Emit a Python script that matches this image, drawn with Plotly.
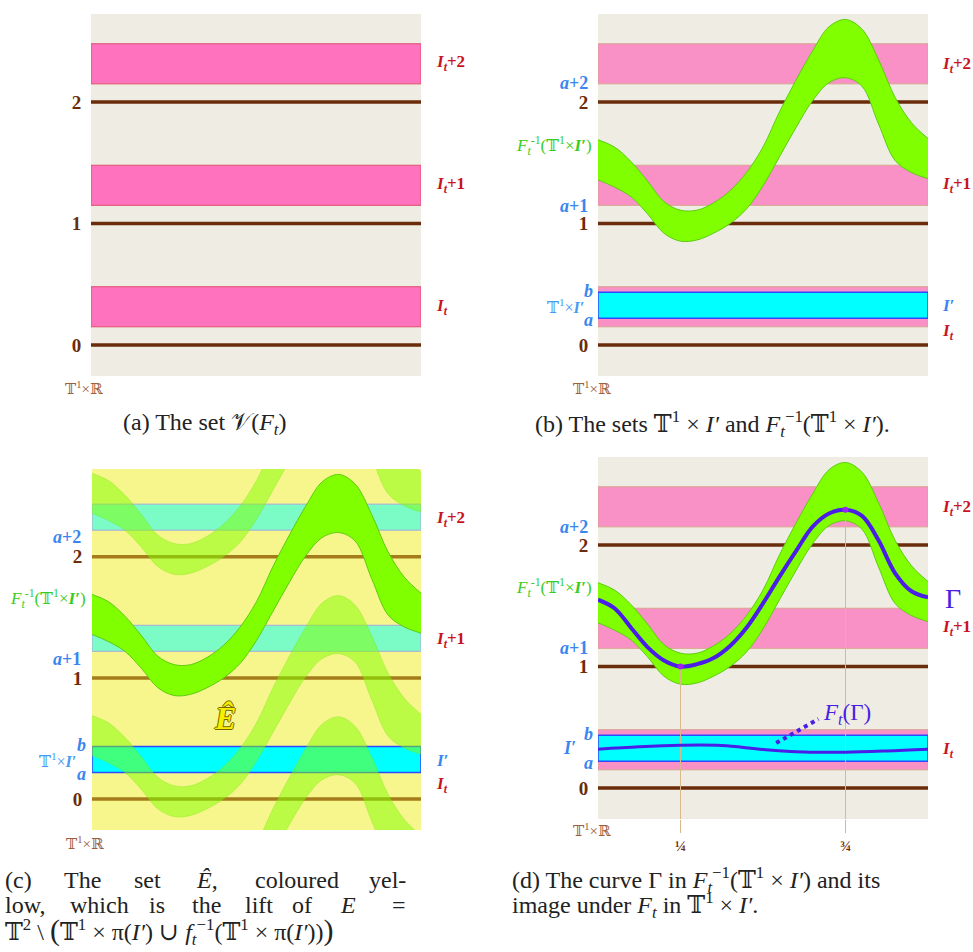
import plotly.graph_objects as go

W, H = 973, 952

# ---------------- data ----------------
XS = [0.00, 0.05, 0.10, 0.15, 0.20, 0.25, 0.30, 0.35, 0.40, 0.45, 0.50,
      0.55, 0.60, 0.65, 0.70, 0.75, 0.80, 0.85, 0.90, 0.95, 1.00]
BAND_TOP = [1.69, 1.63, 1.51, 1.35, 1.18, 1.11, 1.11, 1.17, 1.27, 1.42, 1.63,
            1.92, 2.18, 2.42, 2.62, 2.68, 2.60, 2.35, 2.04, 1.83, 1.70]
BAND_BOT = [1.36, 1.30, 1.22, 1.08, 0.92, 0.855, 0.865, 0.92, 1.00, 1.12, 1.31,
            1.55, 1.79, 2.01, 2.16, 2.20, 2.13, 1.82, 1.52, 1.42, 1.37]
GAMMA = [1.55, 1.48, 1.32, 1.16, 1.05, 1.00, 1.02, 1.07, 1.17, 1.32, 1.52,
         1.74, 1.95, 2.15, 2.26, 2.29, 2.24, 2.04, 1.77, 1.62, 1.57]
FG_X = [0.0, 0.125, 0.25, 0.375, 0.5, 0.625, 0.75, 0.875, 1.0]
FG_Y = [0.32, 0.34, 0.352, 0.35, 0.318, 0.297, 0.295, 0.305, 0.32]
I_T = (0.15, 0.48)
I_PRIME = (0.22, 0.435)
LEVELS = [0, 1, 2]
LEVEL_TEXT = ["<b>0</b>", "<b>1</b>", "<b>2</b>"]
SHIFTS_C = [-2, -1, 1]
MARK_X = [0.25, 0.75]
MARK_TEXT = ["<b>¼</b>", "<b>¾</b>"]

# ---------------- styles ----------------
BG = "#eeece3"
YEL = "#f7f68c"
BROWN = "#6a2c0a"
BROWN_C = "#a47c1a"
PINK_A, PINK_A_LINE = "#ff72be", "#e0506a"
PINK_B, PINK_B_LINE = "#f990c6", "#d8a48e"
CYAN, CYAN_LINE = "#00ffff", "#3048ff"
GREEN, GREEN_LINE = "#80ff00", "#5ccc10"
GAM = "#4a1ee6"
RED = "#c8141e"
BLUE = "#3a86f0"
BLUE2 = "#4a9af5"
GREENTXT = "#38cc22"
TAN = "#9a6040"
SERIF = "Liberation Serif, DejaVu Serif, serif"
YR = [-0.255, 2.725]
CAPS = 24
RS = 17  # right-hand label size

fig = go.Figure()

def ax_names(i):
    s = "" if i == 1 else str(i)
    return "x" + s, "y" + s

def hband(i, lo, hi, fill, line, lw=1.0):
    xa, ya = ax_names(i)
    fig.add_trace(go.Scatter(x=[0, 1, 1, 0, 0], y=[lo, lo, hi, hi, lo], mode="lines",
                             fill="toself", fillcolor=fill,
                             line=dict(color=line, width=lw),
                             hoverinfo="skip", showlegend=False, xaxis=xa, yaxis=ya))

def hline(i, y, color, w=3.5):
    xa, ya = ax_names(i)
    fig.add_trace(go.Scatter(x=[0, 1], y=[y, y], mode="lines",
                             line=dict(color=color, width=w),
                             hoverinfo="skip", showlegend=False, xaxis=xa, yaxis=ya))

def gband(i, shift, fill, line, lw=1.0):
    xa, ya = ax_names(i)
    fig.add_trace(go.Scatter(x=XS, y=[v + shift for v in BAND_BOT], mode="lines",
                             line=dict(color=line, width=lw, shape="spline"),
                             hoverinfo="skip", showlegend=False, xaxis=xa, yaxis=ya))
    fig.add_trace(go.Scatter(x=XS, y=[v + shift for v in BAND_TOP], mode="lines",
                             fill="tonexty", fillcolor=fill,
                             line=dict(color=line, width=lw, shape="spline"),
                             hoverinfo="skip", showlegend=False, xaxis=xa, yaxis=ya))

# ---- panel (a) ----
for k in LEVELS:
    hband(1, I_T[0] + k, I_T[1] + k, PINK_A, PINK_A_LINE)
for k in LEVELS:
    hline(1, k, BROWN)

# ---- panel (b) ----
for k in LEVELS:
    hband(2, I_T[0] + k, I_T[1] + k, PINK_B, PINK_B_LINE)
hband(2, I_PRIME[0], I_PRIME[1], CYAN, CYAN_LINE, 1.5)
for k in LEVELS:
    hline(2, k, BROWN)
gband(2, 0, GREEN, GREEN_LINE)

# ---- panel (c) ----
for k in LEVELS:
    hline(3, k, BROWN_C, 3.5)
hband(3, I_PRIME[0], I_PRIME[1], CYAN, CYAN_LINE, 1.5)
for k in LEVELS[1:]:
    hband(3, I_PRIME[0] + k, I_PRIME[1] + k, "rgba(0,255,255,0.5)", "#a8a8dc", 1.0)
for s in SHIFTS_C:
    gband(3, s, "rgba(128,255,0,0.5)", "rgba(110,220,0,0.45)", 0.6)
gband(3, 0, GREEN, GREEN_LINE)

# ---- panel (d) ----
for k in LEVELS:
    hband(4, I_T[0] + k, I_T[1] + k, PINK_B, PINK_B_LINE)
hband(4, I_PRIME[0], I_PRIME[1], CYAN, CYAN_LINE, 1.5)
for k in LEVELS:
    hline(4, k, BROWN)
gband(4, 0, GREEN, GREEN_LINE)
mark_y = [GAMMA[XS.index(m)] for m in MARK_X]
for mx, my in zip(MARK_X, mark_y):
    fig.add_trace(go.Scatter(x=[mx, mx], y=[my, YR[0]], mode="lines",
                             line=dict(color="#d6b98c", width=1),
                             hoverinfo="skip", showlegend=False, xaxis="x4", yaxis="y4"))
fig.add_trace(go.Scatter(x=XS, y=GAMMA, mode="lines",
                         line=dict(color=GAM, width=4, shape="spline"),
                         hoverinfo="skip", showlegend=False, xaxis="x4", yaxis="y4"))
fig.add_trace(go.Scatter(x=MARK_X, y=mark_y, mode="markers",
                         marker=dict(color="#a020f0", size=6),
                         hoverinfo="skip", showlegend=False, xaxis="x4", yaxis="y4"))
fig.add_trace(go.Scatter(x=FG_X, y=FG_Y, mode="lines",
                         line=dict(color=GAM, width=3, shape="spline"),
                         hoverinfo="skip", showlegend=False, xaxis="x4", yaxis="y4"))
# leader from the image curve to its label
fig.add_trace(go.Scatter(x=[0.54, 0.668], y=[0.37, 0.568], mode="lines",
                         line=dict(color=GAM, width=4, dash="dot"),
                         hoverinfo="skip", showlegend=False, xaxis="x4", yaxis="y4"))

# ---------------- axes ----------------
def px(x):
    return x / W

def py(y):
    return 1 - y / H

domains = {
    1: ([px(91), px(421)], [py(376), py(14)]),
    2: ([px(598), px(928)], [py(376), py(14)]),
    3: ([px(92), px(421)], [py(830), py(469)]),
    4: ([px(598), px(928)], [py(819), py(457)]),
}
lay = {}
for i, (dx, dy) in domains.items():
    s = "" if i == 1 else str(i)
    xa = dict(domain=dx, range=[0, 1], anchor="y" + s, showgrid=False, zeroline=False,
              showline=False, showticklabels=False, ticks="", fixedrange=True)
    if i == 4:
        xa.update(showticklabels=True, tickvals=MARK_X, ticktext=MARK_TEXT,
                  ticks="outside", ticklen=13, tickwidth=1, tickcolor="#d6b98c",
                  tickfont=dict(family=SERIF, size=15, color=BROWN))
    ya = dict(domain=dy, range=YR, anchor="x" + s, showgrid=False, zeroline=False,
              showline=False, showticklabels=True, tickvals=LEVELS, ticktext=LEVEL_TEXT,
              ticks="outside", ticklen=5, tickcolor="rgba(0,0,0,0)",
              tickfont=dict(family=SERIF, size=19, color=BROWN), fixedrange=True)
    lay["xaxis" + s] = xa
    lay["yaxis" + s] = ya

fig.update_layout(**lay)

shapes = [dict(type="rect", xref="x3 domain", yref="y3 domain", x0=0, x1=1, y0=0, y1=1,
               fillcolor=YEL, line=dict(width=0), layer="below")]

# ---------------- annotations ----------------
anns = []

def A(x, y, text, color, size=18, xanchor="left", family=SERIF):
    anns.append(dict(xref="paper", yref="paper", x=px(x), y=py(y), text=text, showarrow=False,
                     xanchor=xanchor, yanchor="middle",
                     font=dict(family=family, size=size, color=color)))

IT = "<b><i>I</i></b><sub><b><i>t</i></b></sub>"
IP = "<b><i>I′</i></b>"
FLAB = "<i>F</i><sub><i>t</i></sub><sup>-1</sup>(𝕋<sup>1</sup>×" + IP + ")"
TIP = "𝕋<sup>1</sup>×" + IP
TR = "𝕋<sup>1</sup>×ℝ"

# (a)
A(434, 63, IT + "<b>+2</b>", RED, RS)
A(434, 185, IT + "<b>+1</b>", RED, RS)
A(434, 307, IT, RED, RS)
A(84, 388, TR, TAN, 15, "center")
A(205, 424, "(a) The set 𝒱(<i>F</i><sub><i>t</i></sub>)", "#222", CAPS, "center")

# (b)
A(590, 83, "<b><i>a</i>+2</b>", BLUE, 18, "right")
A(594, 145, FLAB, GREENTXT, 17, "right")
A(590, 206, "<b><i>a</i>+1</b>", BLUE, 18, "right")
A(595, 291, "<b><i>b</i></b>", BLUE, 18, "right")
A(586, 306, TIP, BLUE2, 16, "right")
A(595, 320, "<b><i>a</i></b>", BLUE, 18, "right")
A(592, 388, TR, TAN, 15, "center")
A(940, 65, IT + "<b>+2</b>", RED, RS)
A(940, 185, IT + "<b>+1</b>", RED, RS)
A(940, 305, IP, BLUE, RS)
A(940, 332, IT, RED, RS)
A(712, 424, "(b) The sets 𝕋<sup>1</sup> × <i>I′</i> and <i>F</i><sub><i>t</i></sub><sup>−1</sup>(𝕋<sup>1</sup> × <i>I′</i>).",
  "#222", CAPS, "center")

# (c)
A(83, 537, "<b><i>a</i>+2</b>", BLUE, 18, "right")
A(88, 598, FLAB, GREENTXT, 17, "right")
A(83, 659, "<b><i>a</i>+1</b>", BLUE, 18, "right")
A(88, 745, "<b><i>b</i></b>", BLUE, 18, "right")
A(78, 760, TIP, BLUE2, 16, "right")
A(88, 774, "<b><i>a</i></b>", BLUE, 18, "right")
A(85, 843, TR, TAN, 15, "center")
A(434, 519, IT + "<b>+2</b>", RED, RS)
A(434, 640, IT + "<b>+1</b>", RED, RS)
A(434, 760, IP, BLUE, RS)
A(434, 785, IT, RED, RS)
A(225, 718, "<b><i>Ê</i></b>", "#f4f000", 32, "center")
anns[-1]["font"]["shadow"] = "1px 0 0 #7a6400, -1px 0 0 #7a6400, 0 1px 0 #7a6400, 0 -1px 0 #7a6400"

cap = "#222"
A(3, 880, "(c)", cap, CAPS, "left")
A(82, 880, "The", cap, CAPS, "center")
A(147, 880, "set", cap, CAPS, "center")
A(207, 880, "<i>Ê</i>,", cap, CAPS, "center")
A(297, 880, "coloured", cap, CAPS, "center")
A(408, 880, "yel-", cap, CAPS, "right")
A(3, 905, "low,", cap, CAPS, "left")
A(99, 905, "which", cap, CAPS, "center")
A(157, 905, "is", cap, CAPS, "center")
A(206, 905, "the", cap, CAPS, "center")
A(259, 905, "lift", cap, CAPS, "center")
A(302, 905, "of", cap, CAPS, "center")
A(348, 905, "<i>E</i>", cap, CAPS, "center")
A(408, 905, "=", cap, CAPS, "right")
A(3, 931, "𝕋<sup>2</sup> \\ <span style='font-size:30px'>(</span>𝕋<sup>1</sup> × π(<i>I′</i>) ∪ "
  "<i>f</i><sub><i>t</i></sub><sup>−1</sup>(𝕋<sup>1</sup> × π(<i>I′</i>))<span style='font-size:30px'>)</span>",
  cap, CAPS, "left")

# (d)
A(590, 527, "<b><i>a</i>+2</b>", BLUE, 18, "right")
A(594, 587, FLAB, GREENTXT, 17, "right")
A(590, 648, "<b><i>a</i>+1</b>", BLUE, 18, "right")
A(595, 734, "<b><i>b</i></b>", BLUE, 18, "right")
A(578, 748, IP, BLUE, 18, "right")
A(595, 763, "<b><i>a</i></b>", BLUE, 18, "right")
A(592, 830, TR, TAN, 15, "center")
A(940, 508, IT + "<b>+2</b>", RED, RS)
A(943, 598, "Γ", GAM, 28)
A(940, 628, IT + "<b>+1</b>", RED, RS)
A(940, 750, IT, RED, RS)
A(821, 714, "<i>F</i><sub><i>t</i></sub>(Γ)", GAM, 23)
A(510, 880, "(d) The curve Γ in <i>F</i><sub><i>t</i></sub><sup>−1</sup>(𝕋<sup>1</sup> × <i>I′</i>) and its", cap, CAPS)
A(510, 905, "image under <i>F</i><sub><i>t</i></sub> in 𝕋<sup>1</sup> × <i>I′</i>.", cap, CAPS)

fig.update_layout(width=W, height=H, autosize=False,
                  margin=dict(l=0, r=0, t=0, b=0),
                  paper_bgcolor="white", plot_bgcolor=BG,
                  showlegend=False, shapes=shapes, annotations=anns)

fig.write_html("out.html", config={"displayModeBar": False},
               post_script="document.body.style.margin='0';document.body.style.overflow='hidden';")
